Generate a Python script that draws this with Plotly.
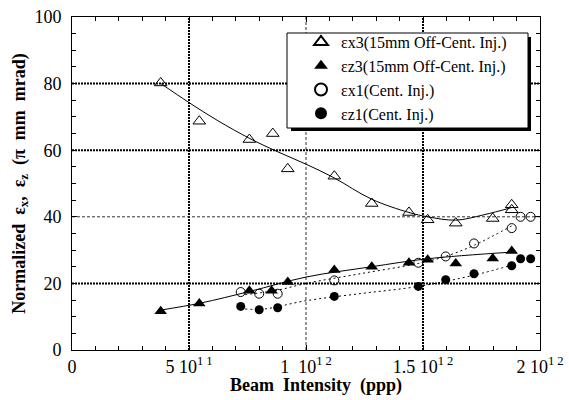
import plotly.graph_objects as go

# ---------------- data (x in units of 1e12 ppp) ----------------
ex3_x = [0.379, 0.544, 0.758, 0.858, 0.922, 1.121, 1.281, 1.440, 1.520, 1.640, 1.798, 1.879, 1.879]
ex3_y = [80.2, 68.7, 63.2, 65.0, 54.4, 52.2, 44.0, 41.3, 39.1, 38.1, 39.5, 43.6, 42.1]
ez3_x = [0.379, 0.544, 0.758, 0.853, 0.922, 1.121, 1.281, 1.440, 1.520, 1.640, 1.798, 1.879]
ez3_y = [11.6, 14.0, 17.8, 17.8, 20.4, 24.0, 25.0, 26.2, 27.1, 26.0, 27.5, 29.7]
ex1_x = [0.721, 0.800, 0.879, 1.121, 1.480, 1.597, 1.718, 1.879, 1.917, 1.960]
ex1_y = [17.4, 16.9, 16.9, 20.9, 26.2, 28.1, 32.0, 36.6, 40.0, 40.0]
ez1_x = [0.721, 0.800, 0.879, 1.121, 1.480, 1.597, 1.718, 1.879, 1.917, 1.960]
ez1_y = [13.1, 12.1, 12.7, 16.1, 19.1, 21.1, 22.9, 25.3, 27.4, 27.4]

# fit curves
ex3_fit_x = [0.38, 0.50, 0.62, 0.76, 0.88, 1.00, 1.12, 1.28, 1.44, 1.52, 1.64, 1.76, 1.88]
ex3_fit_y = [80.0, 74.3, 69.0, 63.5, 59.5, 55.8, 51.7, 45.3, 41.3, 40.0, 39.0, 40.6, 42.8]
ez3_fit_x = [0.38, 0.55, 0.76, 1.00, 1.28, 1.52, 1.88]
ez3_fit_y = [12.0, 14.1, 17.6, 21.9, 25.0, 27.4, 29.4]
ex1_fit_x = [0.74, 0.88, 1.00, 1.24, 1.48, 1.60, 1.72, 1.88]
ex1_fit_y = [16.6, 18.0, 20.0, 23.0, 26.0, 28.2, 31.5, 37.3]
ez1_fit_x = [0.74, 0.82, 1.00, 1.24, 1.48, 1.72, 1.88]
ez1_fit_y = [12.3, 12.3, 14.8, 17.0, 19.1, 22.5, 25.5]

names = ["εx3(15mm Off-Cent. Inj.)", "εz3(15mm Off-Cent. Inj.)",
         "εx1(Cent. Inj.)", "εz1(Cent. Inj.)"]

x_tickvals = [0, 0.5, 1.0, 1.5, 2.0]
x_ticktext = ["0", "5 10<sup>1 1</sup>", "1  10<sup>1 2</sup>",
              "1.5 10<sup>1 2</sup>", "2 10<sup>1 2</sup>"]
y_tickvals = [0, 20, 40, 60, 80, 100]
x_grid_thick = [0.5, 1.5]
x_grid_thin = [1.0]
y_grid_thick = [20, 60, 80]
y_grid_thin = [40]

FONT = "Liberation Serif"

fig = go.Figure()

# fit lines
fig.add_trace(go.Scatter(x=ex3_fit_x, y=ex3_fit_y, mode="lines", line=dict(color="black", width=1, shape="spline"), showlegend=False, hoverinfo="skip"))
fig.add_trace(go.Scatter(x=ez3_fit_x, y=ez3_fit_y, mode="lines", line=dict(color="black", width=1, shape="spline"), showlegend=False, hoverinfo="skip"))
fig.add_trace(go.Scatter(x=ex1_fit_x, y=ex1_fit_y, mode="lines", line=dict(color="black", width=1, shape="spline", dash="2px,3px"), showlegend=False, hoverinfo="skip"))
fig.add_trace(go.Scatter(x=ez1_fit_x, y=ez1_fit_y, mode="lines", line=dict(color="black", width=1, shape="spline", dash="2px,3px"), showlegend=False, hoverinfo="skip"))

# markers
fig.add_trace(go.Scatter(x=ex3_x, y=ex3_y, mode="markers", name=names[0],
                         marker=dict(symbol="triangle-up-open", size=11, color="black", line=dict(width=1))))
fig.add_trace(go.Scatter(x=ez3_x, y=ez3_y, mode="markers", name=names[1],
                         marker=dict(symbol="triangle-up", size=11, color="black")))
fig.add_trace(go.Scatter(x=ex1_x, y=ex1_y, mode="markers", name=names[2],
                         marker=dict(symbol="circle-open", size=9, color="black", line=dict(width=1))))
fig.add_trace(go.Scatter(x=ez1_x, y=ez1_y, mode="markers", name=names[3],
                         marker=dict(symbol="circle", size=9, color="black")))

shapes = []
for v in x_grid_thick:
    shapes.append(dict(type="line", xref="x", yref="paper", x0=v, x1=v, y0=0, y1=1,
                       line=dict(color="black", width=2, dash="2px,1px"), layer="below"))
for v in x_grid_thin:
    shapes.append(dict(type="line", xref="x", yref="paper", x0=v, x1=v, y0=0, y1=1,
                       line=dict(color="#333", width=1, dash="3px,2px"), layer="below"))
for v in y_grid_thick:
    shapes.append(dict(type="line", xref="paper", yref="y", x0=0, x1=1, y0=v, y1=v,
                       line=dict(color="black", width=2, dash="2px,1px"), layer="below"))
for v in y_grid_thin:
    shapes.append(dict(type="line", xref="paper", yref="y", x0=0, x1=1, y0=v, y1=v,
                       line=dict(color="#333", width=1, dash="3px,2px"), layer="below"))

# legend box with drop shadow (pixel -> paper)
L, R, T, B = 72, 540, 17, 350
def px(x):
    return (x - L) / (R - L)
def py(y):
    return (B - y) / (B - T)
shapes.append(dict(type="rect", xref="paper", yref="paper", x0=px(291), x1=px(531), y0=py(131), y1=py(37),
                   fillcolor="black", line=dict(width=0), layer="above"))
shapes.append(dict(type="rect", xref="paper", yref="paper", x0=px(287), x1=px(528), y0=py(128), y1=py(33),
                   fillcolor="white", line=dict(color="black", width=1), layer="above"))

axis_common = dict(showline=True, linecolor="black", linewidth=1, mirror="allticks",
                   ticks="inside", ticklen=5, tickcolor="black", showgrid=False, zeroline=False,
                   automargin=False,
                   tickfont=dict(family=FONT, size=18, color="black"))

fig.update_layout(
    width=569, height=400,
    margin=dict(l=L, r=569 - R, t=T, b=400 - B),
    paper_bgcolor="white", plot_bgcolor="white",
    font=dict(family=FONT, color="black"),
    shapes=shapes,
    showlegend=True,
    legend=dict(x=px(301), y=py(25), xanchor="left", yanchor="top",
                bgcolor="rgba(0,0,0,0)", borderwidth=0,
                font=dict(family=FONT, size=16, color="black"),
                tracegroupgap=0, itemsizing="constant"),
    annotations=[dict(text="<b>Beam  Intensity  (ppp)</b>", xref="paper", yref="paper",
                      x=px(316), y=py(385), xanchor="center", yanchor="middle", showarrow=False,
                      font=dict(family=FONT, size=18, color="black"))],
    xaxis=dict(range=[0, 2.0], tickvals=x_tickvals, ticktext=x_ticktext,
               minor=dict(dtick=0.1, ticks="inside", ticklen=4, tickcolor="black", showgrid=False),
               ticklabelstandoff=0,
               **axis_common),
    yaxis=dict(range=[0, 100], tickvals=y_tickvals,
               minor=dict(dtick=5, ticks="inside", ticklen=4, tickcolor="black", showgrid=False),
               ticklabelstandoff=6,
               title=dict(text="<b>Normalized  ε<sub>x</sub>,  ε<sub>z</sub>  (π  mm  mrad)</b>",
                          font=dict(family=FONT, size=18), standoff=4),
               **axis_common),
)

fig.write_html("out.html")
